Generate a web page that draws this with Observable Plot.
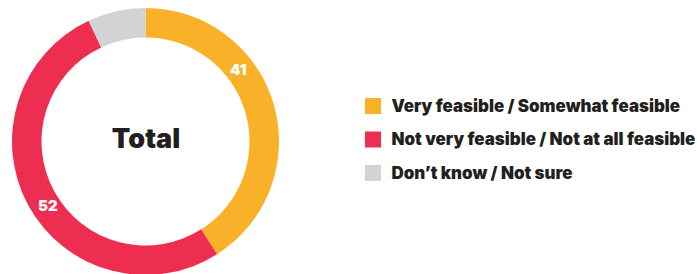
<!DOCTYPE html>
<html><head><meta charset="utf-8">
<script src="https://cdn.jsdelivr.net/npm/d3@7"></script>
<script src="https://cdn.jsdelivr.net/npm/@observablehq/plot@0.6"></script>
<style>html,body{margin:0;padding:0;background:#fff;overflow:hidden}</style>
</head><body><div id="chart"></div>
<script>
const categories = ["Very feasible / Somewhat feasible", "Not very feasible / Not at all feasible", "Don’t know / Not sure"];
const values = [41, 52, 7];
const colors = ["#F9B12A", "#EE2E50", "#D1D3D4"];
const showLabel = [true, true, false];
const centerTitle = "Total";

// layout
const W = 697, H = 274;
const cx = 145.5, cy = 141.5, R = 133.5, r = 104;
const labelAngleDeg = [52, 237, null];
const labelRadius = 117;
const legendX = 365, legendSize = 16, legendTextX = 391, legendY0 = 106, legendStep = 33.5;
const FONT = "Inter, 'Open Sans', sans-serif";

const data = categories.map((c, i) => ({category: c, value: values[i], color: colors[i], i}));
const arcs = d3.pie().sort(null).value(d => d.value)(data);

const labels = data.filter((d, i) => showLabel[i]).map(d => {
  const a = labelAngleDeg[d.i] * Math.PI / 180;
  return {text: String(d.value), x: cx + labelRadius * Math.sin(a), y: cy - labelRadius * Math.cos(a)};
});
const legend = data.map((d, i) => ({...d, y: legendY0 + i * legendStep}));

const donut = (index, scales) => {
  const g = d3.create("svg:g");
  const X = scales.x, Y = scales.y;
  const ox = X(cx), oy = Y(cy);
  const arcGen = d3.arc().innerRadius(X(r) - X(0)).outerRadius(X(R) - X(0));
  g.selectAll("path").data(arcs).join("path")
    .attr("transform", `translate(${ox},${oy})`)
    .attr("d", arcGen)
    .attr("fill", d => d.data.color);
  return g.node();
};

const chart = Plot.plot({
  width: W, height: H,
  margin: 0,
  x: {domain: [0, W], range: [0, W], axis: null},
  y: {domain: [0, H], range: [0, H], axis: null},
  style: {fontFamily: FONT, background: "#fff"},
  marks: [
    donut,
    Plot.text([centerTitle], {x: () => cx, y: () => cy - 3, text: d => d, fontSize: 27, fontWeight: 900, fill: "#231F20"}),
    Plot.text(labels, {x: "x", y: "y", text: "text", fontSize: 15, fontWeight: 900, fill: "#fff"}),
    Plot.rect(legend, {x1: () => legendX, x2: () => legendX + legendSize, y1: d => d.y - legendSize / 2, y2: d => d.y + legendSize / 2, fill: "color"}),
    Plot.text(legend, {x: () => legendTextX, y: "y", text: "category", textAnchor: "start", fontSize: 16.9, fontWeight: 900, fill: "#231F20"})
  ]
});
document.getElementById("chart").append(chart);
</script>
</body></html>
